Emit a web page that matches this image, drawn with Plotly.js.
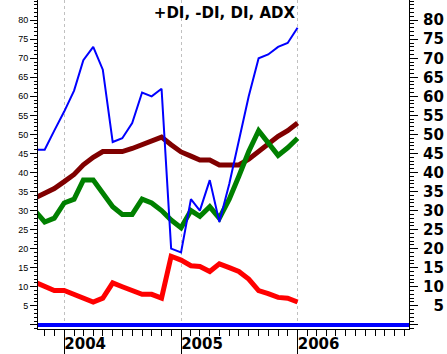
<!DOCTYPE html>
<html><head><meta charset="utf-8">
<script src="https://cdn.plot.ly/plotly-3.0.1.min.js"></script>
<style>html,body{margin:0;padding:0;background:#fff}#c{width:447px;height:354px}</style>
</head><body><div id="c"></div>
<script>
const months = ['2003-10-01','2003-11-01','2003-12-01','2004-01-01','2004-02-01','2004-03-01','2004-04-01','2004-05-01','2004-06-01','2004-07-01','2004-08-01','2004-09-01','2004-10-01','2004-11-01','2004-12-01','2005-01-01','2005-02-01','2005-03-01','2005-04-01','2005-05-01','2005-06-01','2005-07-01','2005-08-01','2005-09-01','2005-10-01','2005-11-01','2005-12-01','2006-01-01'];
const plusDI  = [46,46,51,56,61.5,69.5,73,67,48,49,53,61,60,62,20,19,33,30,38,27,37,48,60,70,71,73,74,78];
const minusDI = [11.2,10,9,9,8,7,6,7,11,10,9,8,8,7,18,17,15.5,15.3,14,16,15,14,12,9,8.2,7.2,7,6];
const di      = [30,27,28,32,33,38,38,34.5,31,29,29,33,32,30,27.5,25.5,30,28.5,31,28,33,39,45.5,51,48,44.5,46.5,49];
const adx     = [33.3,34.5,35.8,37.6,39.5,42,44,45.5,45.5,45.5,46.3,47.3,48,49.3,47.3,45.4,44.3,43.3,43.3,42,42,42,43.5,45.5,47.5,49.5,51,53];
const yTickVals = [0,5,10,15,20,25,30,35,40,45,50,55,60,65,70,75,80];
const yTickTextLeft = ['','5','10','15','20','25','30','35','40','45','50','55','60','65','70','75','80'];
const yTickTextRight = ['','\u20075','10','15','20','25','30','35','40','45','50','55','60','65','70','75','80'];
const titleText = '+DI, -DI, DI, ADX';

const yRange = [-1.1, 85.3];
const traces = [
  {x: months, y: adx, name: 'ADX', mode: 'lines', line: {color: '#800000', width: 5}},
  {x: months, y: di, name: 'DI', mode: 'lines', line: {color: '#008000', width: 5}},
  {x: months, y: minusDI, name: '-DI', mode: 'lines', line: {color: '#ff0000', width: 5}},
  {x: months, y: plusDI, name: '+DI', mode: 'lines', line: {color: '#0000ff', width: 2}},
  {x: months, y: adx, yaxis: 'y2', mode: 'none', showlegend: false, hoverinfo: 'skip'}
];
const layout = {
  width: 447, height: 354,
  margin: {l: 38, r: 38, t: 0, b: 25},
  paper_bgcolor: '#fff', plot_bgcolor: '#fff',
  showlegend: false,
  title: {text: titleText, x: 0.693, xref: 'paper', xanchor: 'right', y: 0.963, yref: 'container', yanchor: 'middle',
          font: {family: 'DejaVu Sans', size: 15, color: '#000', weight: 'bold'}},
  xaxis: {
    type: 'date', range: ['2003-10-11', '2006-12-16'],
    tick0: '2004-01-01', dtick: 'M12', tickformat: '%Y',
    ticks: 'outside', ticklen: 25, tickcolor: '#000', tickwidth: 1,
    ticklabelshift: 21, ticklabelstandoff: -24,
    tickfont: {family: 'DejaVu Sans', size: 15, color: '#000', weight: 'bold'},
    showgrid: true, gridcolor: '#c0c0c0', griddash: '3px,3px', gridwidth: 1,
    minor: {dtick: 'M1', tick0: '2004-01-01', ticks: 'outside', ticklen: 6, tickcolor: '#000', showgrid: false},
    showline: true, linecolor: '#000', linewidth: 1, zeroline: false, fixedrange: true
  },
  yaxis: {
    range: yRange, tickvals: yTickVals, ticktext: yTickTextLeft,
    ticks: 'outside', ticklen: 7, tickcolor: '#000',
    tickfont: {family: 'Liberation Sans', size: 9, color: '#000'},
    minor: {dtick: 1, tick0: 0, ticks: 'outside', ticklen: 3, tickcolor: '#000', showgrid: false},
    showgrid: false, showline: true, linecolor: '#000', linewidth: 1,
    zeroline: true, zerolinecolor: '#0000ff', zerolinewidth: 4, fixedrange: true
  },
  yaxis2: {
    overlaying: 'y', side: 'right', anchor: 'x',
    range: yRange, tickvals: yTickVals, ticktext: yTickTextRight,
    ticks: 'outside', ticklen: 8, tickcolor: '#000', ticklabelstandoff: 2,
    tickfont: {family: 'DejaVu Sans', size: 15, color: '#000', weight: 'bold'},
    minor: {dtick: 1, tick0: 0, ticks: 'outside', ticklen: 4, tickcolor: '#000', showgrid: false},
    showgrid: false, showline: true, linecolor: '#000', linewidth: 1, zeroline: false, fixedrange: true
  }
};
Plotly.newPlot('c', traces, layout, {displayModeBar: false, staticPlot: true});
</script></body></html>
